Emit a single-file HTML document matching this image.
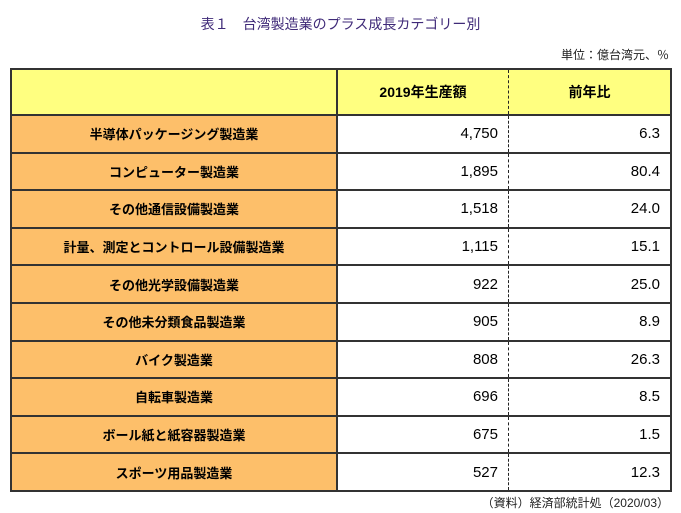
<!DOCTYPE html>
<html><head><meta charset="utf-8"><style>
body{margin:0;width:681px;height:513px;background:#fff;font-family:"Liberation Sans","Noto Sans CJK JP",sans-serif;position:relative;overflow:hidden}
.title{position:absolute;top:14px;left:0;width:681px;text-align:center;font-size:14px;color:#3f2a78}
.unit{position:absolute;top:46px;right:12px;font-size:12px;color:#222}
table{position:absolute;left:10px;top:68px;border-collapse:collapse;width:662px}
td{border:2px solid #333;height:35.6px;font-size:15px;padding:0}
tr.h td{height:44px;background:#ffff80;font-weight:bold;text-align:center;font-size:14px}
td.c1{width:324px;background:#fdbf6a;font-weight:bold;text-align:center;font-size:13px}
td.c2{width:160px;text-align:right;padding-right:10px;border-right:1.5px dashed #222}
td.c3{text-align:right;padding-right:10px;border-left:1.5px dashed #222}
tr.h td.c2,tr.h td.c3{text-align:center;padding-right:0}
.src{position:absolute;top:494px;right:12px;font-size:12px;color:#222}
</style></head><body>
<div class="title">表１　台湾製造業のプラス成長カテゴリー別</div>
<div class="unit">単位：億台湾元、％</div>
<table>
<tr class="h"><td class="c1" style="background:#ffff80"></td><td class="c2">2019年生産額</td><td class="c3">前年比</td></tr>
<tr><td class="c1">半導体パッケージング製造業</td><td class="c2">4,750</td><td class="c3">6.3</td></tr>
<tr><td class="c1">コンピューター製造業</td><td class="c2">1,895</td><td class="c3">80.4</td></tr>
<tr><td class="c1">その他通信設備製造業</td><td class="c2">1,518</td><td class="c3">24.0</td></tr>
<tr><td class="c1">計量、測定とコントロール設備製造業</td><td class="c2">1,115</td><td class="c3">15.1</td></tr>
<tr><td class="c1">その他光学設備製造業</td><td class="c2">922</td><td class="c3">25.0</td></tr>
<tr><td class="c1">その他未分類食品製造業</td><td class="c2">905</td><td class="c3">8.9</td></tr>
<tr><td class="c1">バイク製造業</td><td class="c2">808</td><td class="c3">26.3</td></tr>
<tr><td class="c1">自転車製造業</td><td class="c2">696</td><td class="c3">8.5</td></tr>
<tr><td class="c1">ボール紙と紙容器製造業</td><td class="c2">675</td><td class="c3">1.5</td></tr>
<tr><td class="c1">スポーツ用品製造業</td><td class="c2">527</td><td class="c3">12.3</td></tr>
</table>
<div class="src">（資料）経済部統計処（2020/03）</div>
</body></html>
